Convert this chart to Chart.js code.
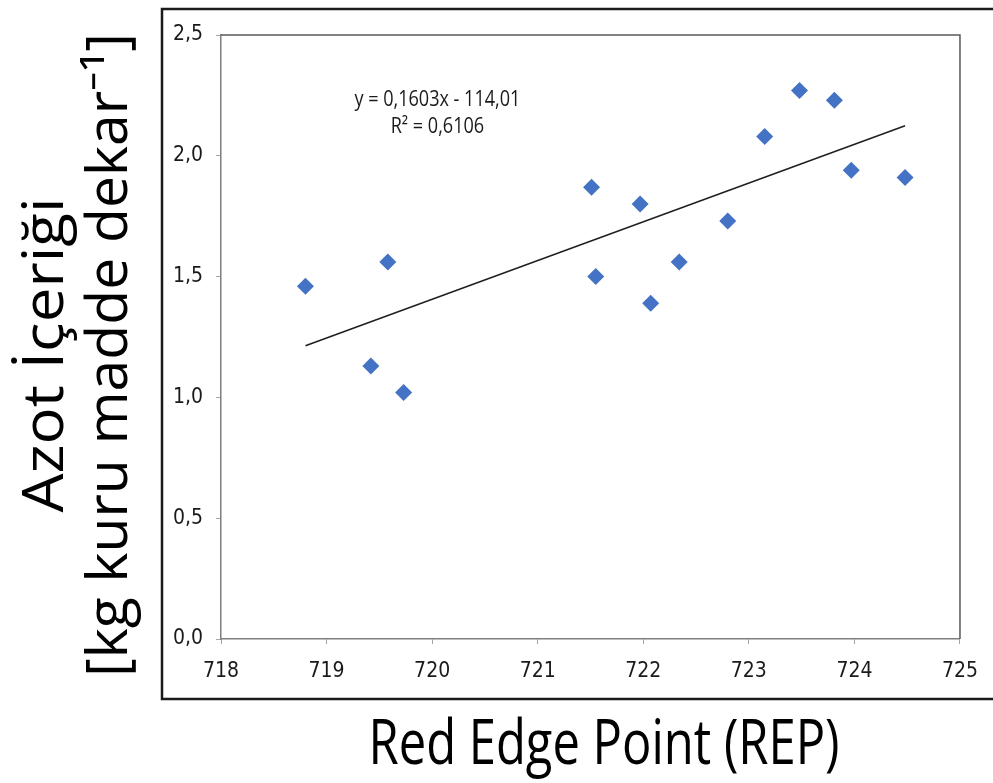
<!DOCTYPE html>
<html>
<head>
<meta charset="utf-8">
<script src="https://cdn.jsdelivr.net/npm/chart.js@4.4.1/dist/chart.umd.min.js"></script>
<style>
  html, body { margin: 0; padding: 0; background: #fff; }
  canvas { display: block; }
</style>
</head>
<body>
<canvas id="repChart" width="993" height="783"></canvas>
<script>
// REP (nm) vs. nitrogen content
const rep = [718.80, 719.42, 719.58, 719.73, 721.51, 721.55, 721.97, 722.07, 722.34, 722.80, 723.15, 723.48, 723.81, 723.97, 724.48];
const azot = [1.46, 1.13, 1.56, 1.02, 1.87, 1.50, 1.80, 1.39, 1.56, 1.73, 2.08, 2.27, 2.23, 1.94, 1.91];

// linear trend y = a*x + b
const slope = 0.1603;
const intercept = -114.01;
const r2 = 0.6106;

const xTicks = [718, 719, 720, 721, 722, 723, 724, 725];
const yTicks = [0, 0.5, 1.0, 1.5, 2.0, 2.5];

const xTitle = 'Red Edge Point (REP)';
const yTitle = ['Azot İçeriği', '[kg kuru madde dekar⁻¹]'];

const comma = (v, d) => v.toFixed(d).replace('.', ',');
const eqLines = [
  'y = ' + comma(slope, 4) + 'x - ' + comma(-intercept, 2),
  'R² = ' + comma(r2, 4)
];
const eqAnchor = { x: 720.05, y: 2.23 };

const points = rep.map((x, i) => ({ x: x, y: azot[i] }));
const xMin = Math.min(...rep), xMax = Math.max(...rep);
const trend = [xMin, xMax].map(x => ({ x: x, y: slope * x + intercept }));

const narrow = '"DejaVu Sans Condensed", "Liberation Sans Narrow", sans-serif';
const humanist = '"Open Sans", sans-serif';

// outer frame and the top/right edges of the plot area
const framePlugin = {
  id: 'frame',
  beforeDraw(chart) {
    const c = chart.ctx;
    c.save();
    c.fillStyle = '#fff';
    c.fillRect(0, 0, chart.width, chart.height);
    c.strokeStyle = '#1a1a1a';
    c.lineWidth = 2.5;
    c.strokeRect(162, 9, 840, 690);
    c.restore();
  },
  beforeDatasetsDraw(chart) {
    const a = chart.chartArea, c = chart.ctx;
    c.save();
    c.strokeStyle = '#595959';
    c.lineWidth = 1.5;
    c.beginPath();
    c.moveTo(a.left, a.top);
    c.lineTo(a.right, a.top);
    c.lineTo(a.right, a.bottom);
    c.stroke();
    c.restore();
  }
};

// axis titles, squeezed a little along the text direction
const titlesPlugin = {
  id: 'titles',
  afterDraw(chart) {
    const c = chart.ctx;
    c.save();
    c.fillStyle = '#000';
    c.textAlign = 'center';
    c.textBaseline = 'middle';

    c.font = '62px ' + humanist;
    const w = c.measureText(xTitle).width;
    c.save();
    c.translate(604, 746);
    c.scale(471 / w, 1);
    c.fillText(xTitle, 0, 0);
    c.restore();

    c.font = '56px ' + humanist;
    const lens = [315, 644];
    const xs = [47, 111];
    yTitle.forEach((t, i) => {
      const tw = c.measureText(t).width;
      c.save();
      c.translate(xs[i], 355);
      c.rotate(-Math.PI / 2);
      c.scale(lens[i] / tw, 1);
      c.fillText(t, 0, 0);
      c.restore();
    });
    c.restore();
  }
};

// trendline equation text
const eqPlugin = {
  id: 'equation',
  afterDatasetsDraw(chart) {
    const c = chart.ctx;
    const px = chart.scales.x.getPixelForValue(eqAnchor.x);
    const py = chart.scales.y.getPixelForValue(eqAnchor.y);
    c.save();
    c.font = '21px ' + humanist;
    c.fillStyle = '#1a1a1a';
    c.textAlign = 'center';
    c.textBaseline = 'middle';
    const w = c.measureText(eqLines[0]).width;
    c.translate(px, py);
    c.scale(166 / w, 1);
    eqLines.forEach((t, i) => c.fillText(t, 0, i * 27));
    c.restore();
  }
};

const ctx = document.getElementById('repChart').getContext('2d');

new Chart(ctx, {
  type: 'scatter',
  data: {
    datasets: [{
      data: points,
      pointStyle: 'rectRot',
      pointRadius: 8.5,
      pointHoverRadius: 8.5,
      backgroundColor: '#4472C4',
      borderColor: '#4472C4',
      borderWidth: 0,
      order: 1
    }, {
      type: 'line',
      data: trend,
      borderColor: '#1f1f1f',
      borderWidth: 1.5,
      pointRadius: 0,
      fill: false,
      order: 2
    }]
  },
  options: {
    responsive: false,
    animation: false,
    devicePixelRatio: 1,
    layout: { padding: { top: 35, right: 29, left: 0, bottom: 0 } },
    plugins: {
      legend: { display: false },
      tooltip: { enabled: false }
    },
    scales: {
      x: {
        type: 'linear',
        min: 718,
        max: 725,
        afterBuildTicks: s => { s.ticks = xTicks.map(v => ({ value: v })); },
        afterFit: s => { s.height = 783 - 639; },
        ticks: {
          padding: 15,
          color: '#1a1a1a',
          font: { family: narrow, size: 21 },
          maxRotation: 0,
          callback: v => String(v)
        },
        grid: { drawOnChartArea: false, drawTicks: true, tickLength: 5, color: '#a6a6a6' },
        border: { color: '#7f7f7f', width: 1.5 }
      },
      y: {
        min: 0,
        max: 2.5,
        afterBuildTicks: s => { s.ticks = yTicks.map(v => ({ value: v })); },
        afterFit: s => { s.width = 221; },
        ticks: {
          padding: 13,
          color: '#1a1a1a',
          font: { family: narrow, size: 21 },
          callback: v => comma(v, 1)
        },
        grid: { drawOnChartArea: false, drawTicks: true, tickLength: 5, color: '#a6a6a6' },
        border: { color: '#7f7f7f', width: 1.5 }
      }
    }
  },
  plugins: [framePlugin, eqPlugin, titlesPlugin]
});
</script>
</body>
</html>
